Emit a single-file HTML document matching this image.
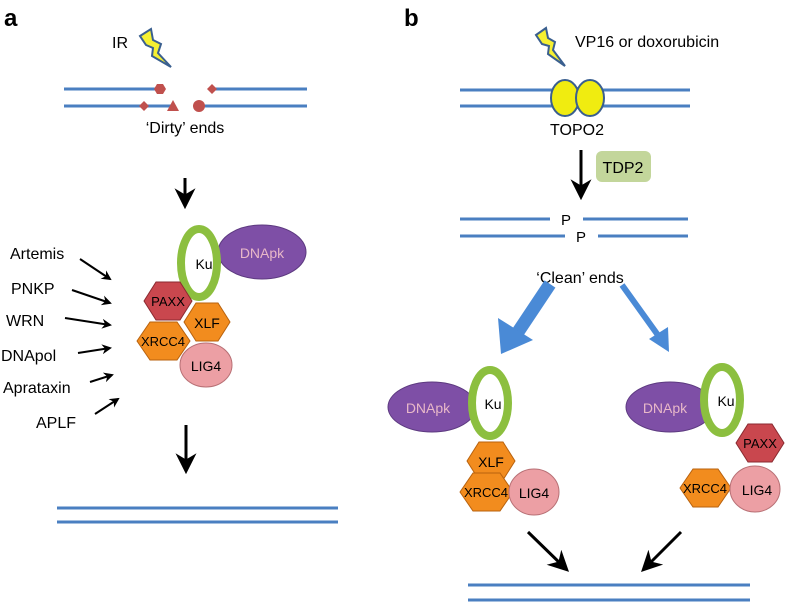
<!DOCTYPE html>
<html><head><style>body{margin:0;background:#fff}svg{display:block}text{font-family:"Liberation Sans",Arial,sans-serif}</style></head><body>
<svg width="786" height="602" viewBox="0 0 786 602" xmlns="http://www.w3.org/2000/svg">
<defs>
<marker id="ah" viewBox="0 0 10 10" refX="8" refY="5" markerWidth="5" markerHeight="5" orient="auto"><path d="M0,0 L10,5 L0,10 L3,5z" fill="#000"/></marker>
<marker id="ahs" viewBox="0 0 10 10" refX="8" refY="5" markerWidth="7" markerHeight="7" orient="auto"><path d="M0,0 L10,5 L0,10 L3,5z" fill="#000"/></marker>
</defs>
<g stroke="#4a7fc1" stroke-width="3" fill="none">
<line x1="64" y1="89" x2="160" y2="89"/><line x1="212" y1="89" x2="307" y2="89"/>
<line x1="64" y1="106" x2="173" y2="106"/><line x1="199" y1="106" x2="307" y2="106"/>
<line x1="57" y1="508" x2="338" y2="508"/><line x1="57" y1="522" x2="338" y2="522"/>
<line x1="460" y1="90" x2="690" y2="90"/><line x1="460" y1="106" x2="690" y2="106"/>
<line x1="460" y1="219" x2="550" y2="219"/><line x1="583" y1="219" x2="688" y2="219"/>
<line x1="460" y1="236" x2="565" y2="236"/><line x1="598" y1="236" x2="688" y2="236"/>
<line x1="468" y1="585" x2="750" y2="585"/><line x1="468" y1="600" x2="750" y2="600"/>
</g>
<text x="4" y="26" font-size="24" font-weight="bold">a</text>
<text x="404" y="26" font-size="24" font-weight="bold">b</text>
<polygon points="140,36 151,29 153,40 161,44 158,53 171,67 152,56 153,48 146,45" fill="#f5f032" stroke="#3a5f8f" stroke-width="2"/>
<polygon points="536,35 546,28 548,38 555,42 553,50 565,66 548,54 549,46 542,44" fill="#f5f032" stroke="#3a5f8f" stroke-width="2"/>
<text x="112" y="48" font-size="16">IR</text>
<g fill="#c0504d">
<polygon points="154,89 157,84 163,84 166,89 163,94 157,94"/>
<polygon points="212,84 217,89 212,94 207,89"/>
<polygon points="144,101 149,106 144,111 139,106"/>
<polygon points="173,100 179,111 167,111"/>
<circle cx="199" cy="106" r="6"/>
</g>
<text x="185" y="133" font-size="16" text-anchor="middle">‘Dirty’ ends</text>
<g stroke="#000" stroke-width="3" fill="none">
<line x1="185" y1="178" x2="185" y2="205" marker-end="url(#ahs)"/>
<line x1="186" y1="425" x2="186" y2="470" marker-end="url(#ahs)"/>
<line x1="581" y1="150" x2="581" y2="196" marker-end="url(#ahs)"/>
<line x1="528" y1="532" x2="566" y2="569" marker-end="url(#ahs)"/>
<line x1="681" y1="532" x2="644" y2="569" marker-end="url(#ahs)"/>
</g>
<g stroke="#000" stroke-width="2" fill="none">
<line x1="80" y1="259" x2="110" y2="279" marker-end="url(#ah)"/>
<line x1="72" y1="290" x2="110" y2="303" marker-end="url(#ah)"/>
<line x1="65" y1="318" x2="110" y2="325" marker-end="url(#ah)"/>
<line x1="78" y1="353" x2="110" y2="348" marker-end="url(#ah)"/>
<line x1="90" y1="382" x2="112" y2="375" marker-end="url(#ah)"/>
<line x1="95" y1="414" x2="118" y2="399" marker-end="url(#ah)"/>
</g>
<g font-size="16">
<text x="10" y="259">Artemis</text>
<text x="11" y="294">PNKP</text>
<text x="6" y="326">WRN</text>
<text x="1" y="361">DNApol</text>
<text x="3" y="393">Aprataxin</text>
<text x="36" y="428">APLF</text>
</g>
<ellipse cx="262" cy="252" rx="44" ry="27" fill="#7e4fa6" stroke="#5d3a80"/>
<text x="262" y="258" font-size="14" fill="#e8b8c8" text-anchor="middle">DNApk</text>
<ellipse cx="199" cy="263" rx="18" ry="34" fill="#fff" stroke="#8cbf3f" stroke-width="8"/>
<text x="204" y="269" font-size="14" text-anchor="middle">Ku</text>
<polygon points="144,301 156,282 180,282 192,301 180,320 156,320" fill="#c9474e" stroke="#8a2a30"/>
<text x="168" y="306" font-size="13" text-anchor="middle">PAXX</text>
<polygon points="184,322 196,303 218,303 230,322 218,341 196,341" fill="#f28c1e" stroke="#b8620e"/>
<text x="207" y="328" font-size="14" text-anchor="middle">XLF</text>
<polygon points="137,341 150,322 177,322 190,341 177,360 150,360" fill="#f28c1e" stroke="#b8620e"/>
<text x="163" y="346" font-size="13" text-anchor="middle">XRCC4</text>
<ellipse cx="206" cy="365" rx="26" ry="22" fill="#ec9fa4" stroke="#b87075"/>
<text x="206" y="371" font-size="14" text-anchor="middle">LIG4</text>
<text x="575" y="47" font-size="16">VP16 or doxorubicin</text>
<ellipse cx="565" cy="98" rx="14" ry="18" fill="#f0ec10" stroke="#3a5f8f" stroke-width="2"/>
<ellipse cx="590" cy="98" rx="14" ry="18" fill="#f0ec10" stroke="#3a5f8f" stroke-width="2"/>
<text x="577" y="135" font-size="16" text-anchor="middle">TOPO2</text>
<rect x="596" y="151" width="55" height="31" rx="6" fill="#c3d69b"/>
<text x="623" y="173" font-size="16" text-anchor="middle">TDP2</text>
<text x="566" y="225" font-size="15" text-anchor="middle">P</text>
<text x="581" y="242" font-size="15" text-anchor="middle">P</text>
<text x="580" y="283" font-size="16" text-anchor="middle">‘Clean’ ends</text>
<line x1="550" y1="284" x2="516" y2="335" stroke="#4a8ad6" stroke-width="13"/>
<polygon points="501,354 498,318 533,340" fill="#4a8ad6"/>
<line x1="622" y1="285" x2="660" y2="338" stroke="#4a8ad6" stroke-width="6"/>
<polygon points="669,352 649,339 668,327" fill="#4a8ad6"/>
<ellipse cx="432" cy="407" rx="44" ry="25" fill="#7e4fa6" stroke="#5d3a80"/>
<text x="428" y="413" font-size="14" fill="#e8b8c8" text-anchor="middle">DNApk</text>
<ellipse cx="490" cy="403" rx="18" ry="33" fill="#fff" stroke="#8cbf3f" stroke-width="8"/>
<text x="493" y="409" font-size="14" text-anchor="middle">Ku</text>
<polygon points="467,461 479,442 503,442 515,461 503,480 479,480" fill="#f28c1e" stroke="#b8620e"/>
<text x="491" y="467" font-size="14" text-anchor="middle">XLF</text>
<polygon points="460,492 473,473 500,473 513,492 500,511 473,511" fill="#f28c1e" stroke="#b8620e"/>
<text x="486" y="497" font-size="13" text-anchor="middle">XRCC4</text>
<ellipse cx="534" cy="492" rx="25" ry="23" fill="#ec9fa4" stroke="#b87075"/>
<text x="534" y="498" font-size="14" text-anchor="middle">LIG4</text>
<ellipse cx="670" cy="407" rx="44" ry="25" fill="#7e4fa6" stroke="#5d3a80"/>
<text x="665" y="413" font-size="14" fill="#e8b8c8" text-anchor="middle">DNApk</text>
<polygon points="736,443 748,424 772,424 784,443 772,462 748,462" fill="#c9474e" stroke="#8a2a30"/>
<text x="760" y="448" font-size="13" text-anchor="middle">PAXX</text>
<ellipse cx="722" cy="400" rx="18" ry="33" fill="#fff" stroke="#8cbf3f" stroke-width="8"/>
<text x="726" y="406" font-size="14" text-anchor="middle">Ku</text>
<polygon points="680,488 693,469 718,469 731,488 718,507 693,507" fill="#f28c1e" stroke="#b8620e"/>
<text x="705" y="493" font-size="13" text-anchor="middle">XRCC4</text>
<ellipse cx="755" cy="489" rx="25" ry="23" fill="#ec9fa4" stroke="#b87075"/>
<text x="757" y="495" font-size="14" text-anchor="middle">LIG4</text>
</svg>
</body></html>
